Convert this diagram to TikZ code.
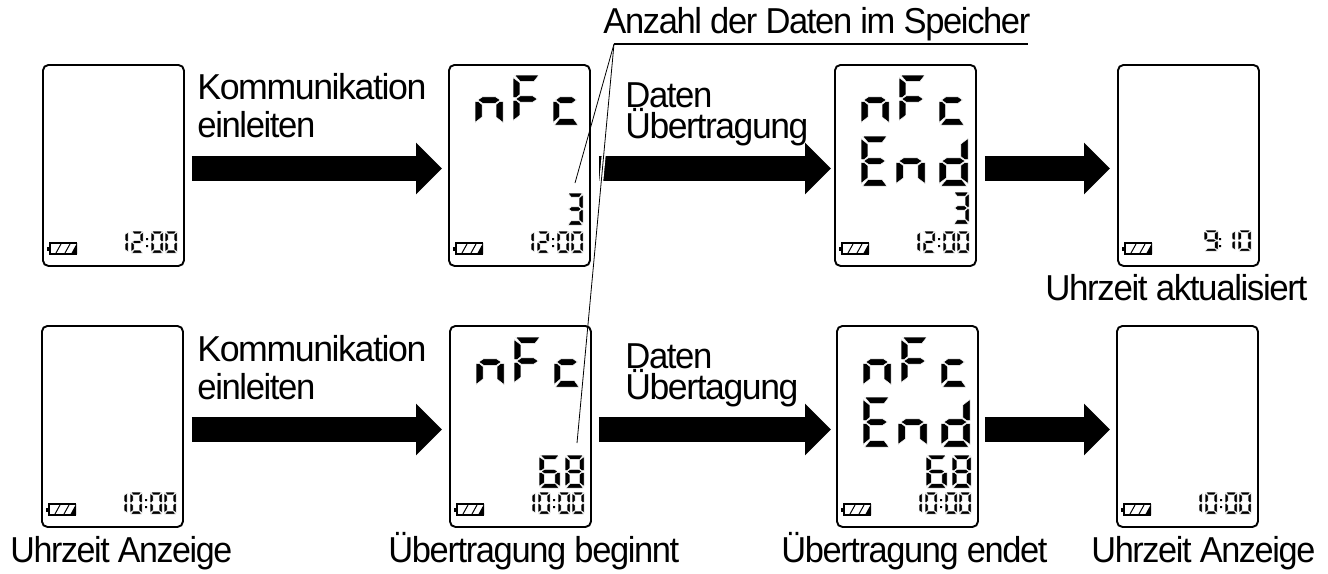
\documentclass[tikz,border=0pt]{standalone}
\usepackage{fontspec}
\usepackage{graphicx}
\usetikzlibrary{calc, arrows.meta}
\newfontfamily\labelfont[LetterSpace=-4]{Liberation Sans}
\newdimen\pxunit
\pxunit=0.2mm
\tikzset{
	screenbox/.style={draw, line width=0.38mm, rounded corners=1.1mm, inner sep=0pt, anchor=north west, minimum width=28.2mm, minimum height=40.2mm},
	bigarrow/.style={line width=5mm, -{Triangle[length=5.2mm, width=10mm]}},
	lcdseg/.style={fill=black, draw=white, line width=0.1mm},
	lcdlabel/.style={font=\labelfont\fontsize{20.5pt}{24pt}\selectfont, anchor=base west, inner sep=0pt},
	leader/.style={line width=0.16mm},
	leaderhalo/.style={white, line width=0.8mm}
}
\newcommand{\fitw}[2]{\resizebox{#1\pxunit}{\height}{#2}}
% segments of one cell, unit box
\newcommand{\lcdsega}{(.06,0) -- (.96,0) -- (.78,.13) -- (.26,.13) -- cycle}
\newcommand{\lcdsegb}{(1,.05) -- (.75,.16) -- (.75,.41) -- (.88,.47) -- (1,.47) -- cycle}
\newcommand{\lcdsegc}{(1,.53) -- (.88,.53) -- (.75,.59) -- (.75,.84) -- (1,.95) -- cycle}
\newcommand{\lcdsegd}{(.26,.87) -- (.78,.87) -- (.96,1) -- (.06,1) -- cycle}
\newcommand{\lcdsege}{(0,.53) -- (.12,.53) -- (.25,.59) -- (.25,.84) -- (0,.95) -- cycle}
\newcommand{\lcdsegf}{(0,.05) -- (.25,.16) -- (.25,.41) -- (.12,.47) -- (0,.47) -- cycle}
\newcommand{\lcdsegg}{(.1,.5) -- (.27,.435) -- (.73,.435) -- (.9,.5) -- (.73,.565) -- (.27,.565) -- cycle}
\newcommand{\lcdcell}[5]{
	\begin{scope}[shift={(#1,#2)}, x=#3*0.2mm, y=-#4*0.2mm]
		\foreach \s in {#5} {\filldraw[lcdseg] \csname lcdseg\s\endcsname;}
	\end{scope}
}
\newcommand{\lcdnfc}[1]{
	\lcdcell{27}{#1}{28}{50}{e,g,c}
	\lcdcell{65}{#1}{27}{48}{a,f,g,e}
	\lcdcell{105}{#1}{26}{50}{g,e,d}
}
\newcommand{\lcdend}[1]{
	\lcdcell{27}{#1}{27}{50}{a,f,g,e,d}
	\lcdcell{62}{#1}{29}{50}{e,g,c}
	\lcdcell{105}{#1}{29}{50}{b,c,d,e,g}
}
\newcommand{\lcdcolon}[1]{
	\fill (#1,174) rectangle ++(2,2) (#1,181) rectangle ++(2,2);
}
\newcommand{\lcdclock}[1]{
	\lcdcell{74}{167}{12}{22}{b,c}
	\lcdcell{89}{167}{12}{22}{#1}
	\lcdcolon{104}
	\lcdcell{109}{167}{12}{22}{a,b,c,d,e,f}
	\lcdcell{123}{167}{12}{22}{a,b,c,d,e,f}
}
\newcommand{\lcdcount}{
	\lcdcell{90}{130}{21}{33}{a,f,g,e,c,d}
	\lcdcell{116}{130}{19}{33}{a,b,c,d,e,f,g}
}
\begin{document}
\begin{tikzpicture}[x=0.2mm, y=-0.2mm]
	\useasboundingbox (0,0) rectangle (1328,573);
	\foreach \nm/\x/\y in {topa/42/64, topb/448/64, topc/834/64, topd/1117/64, lowa/41/325, lowb/449/325, lowc/836/325, lowd/1116/325} {
		\node[screenbox] (\nm) at (\x,\y) {};
		% battery
		\begin{scope}[shift={(\nm.north west)}]
			\fill (5,183) rectangle ++(2,4);
			\draw[line width=0.3mm] (35,179) -- (8,179) -- (8,190) -- (35,190);
			\fill (35,179) -- (35,190) -- (29,190) -- cycle;
			\draw[line width=0.2mm] (14,189) -- (19,180) (23,189) -- (28,180);
		\end{scope}
	}
	% arrows
	\foreach \a/\b/\sa/\sb in {topa/topb/7/6, topb/topc/8/3, topc/topd/8/7, lowa/lowb/8/7, lowb/lowc/7/5, lowc/lowd/6/6} {
		\draw[bigarrow] ($(\a.east)+(\sa,3)$) -- ($(\b.west)+(-\sb,3)$);
	}
	% display contents
	\begin{scope}[shift={(topa.north west)}]
		\lcdclock{a,b,g,e,d}
	\end{scope}
	\begin{scope}[shift={(topb.north west)}]
		\lcdnfc{11}
		\lcdcell{119}{129}{16}{32}{a,b,g,c,d}
		\lcdclock{a,b,g,e,d}
		\coordinate (three) at (127,119);
	\end{scope}
	\begin{scope}[shift={(topc.north west)}]
		\lcdnfc{11}
		\lcdend{72}
		\lcdcell{119}{128}{16}{32}{a,b,g,c,d}
		\lcdclock{a,b,g,e,d}
	\end{scope}
	\begin{scope}[shift={(topd.north west)}]
		\lcdcell{87}{166}{14}{21}{a,b,f,g,c,d}
		\lcdcolon{102}
		\lcdcell{106}{166}{12}{21}{b,c}
		\lcdcell{121}{166}{13}{21}{a,b,c,d,e,f}
	\end{scope}
	\begin{scope}[shift={(lowa.north west)}]
		\lcdclock{a,b,c,d,e,f}
	\end{scope}
	\begin{scope}[shift={(lowb.north west)}]
		\lcdnfc{12}
		\lcdcount
		\lcdclock{a,b,c,d,e,f}
		\coordinate (sixtyeight) at (128,118);
	\end{scope}
	\begin{scope}[shift={(lowc.north west)}]
		\lcdnfc{12}
		\lcdend{72}
		\lcdcount
		\lcdclock{a,b,c,d,e,f}
	\end{scope}
	\begin{scope}[shift={(lowd.north west)}]
		\lcdclock{a,b,c,d,e,f}
	\end{scope}
	% leaders
	\coordinate (leadtop) at (614,44);
	\coordinate (leadend) at (1028,44);
	\draw[leaderhalo] ($(leadtop)!0.27!(sixtyeight)$) -- ($(leadtop)!0.35!(sixtyeight)$);
	\draw[leader, line width=0.3mm] (leadtop) -- (leadend);
	\draw[leader] (leadtop) -- (three);
	\draw[leader] (leadtop) -- (sixtyeight);
	% labels
	\node[lcdlabel] (speicher) at (603,33) {\fitw{427}{Anzahl der Daten im Speicher}};
	\node[lcdlabel] (komma) at (197,99) {\fitw{229}{Kommunikation}};
	\node[lcdlabel] (einla) at (197,137) {\fitw{118}{einleiten}};
	\node[lcdlabel] (datena) at (625,107) {\fitw{87}{Daten}};
	\node[lcdlabel] (uebera) at (625,138) {\fitw{183}{Übertragung}};
	\node[lcdlabel] (aktuell) at (1045,300) {\fitw{262}{Uhrzeit aktualisiert}};
	\node[lcdlabel] (kommb) at (197,361) {\fitw{229}{Kommunikation}};
	\node[lcdlabel] (einlb) at (197,399) {\fitw{118}{einleiten}};
	\node[lcdlabel] (datenb) at (625,368) {\fitw{87}{Daten}};
	\node[lcdlabel] (ueberb) at (625,399) {\fitw{173}{Übertagung}};
	\node[lcdlabel] (anzeigea) at (10,562) {\fitw{222}{Uhrzeit Anzeige}};
	\node[lcdlabel] (beginn) at (388,562) {\fitw{291}{Übertragung beginnt}};
	\node[lcdlabel] (ende) at (781,562) {\fitw{266}{Übertragung endet}};
	\node[lcdlabel] (anzeigeb) at (1091,562) {\fitw{224}{Uhrzeit Anzeige}};
\end{tikzpicture}
\end{document}
